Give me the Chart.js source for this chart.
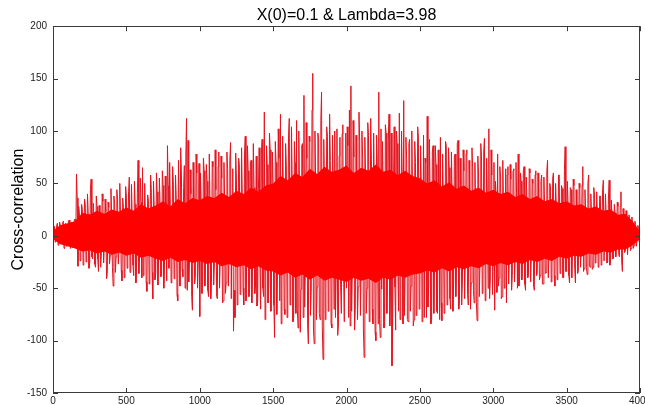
<!DOCTYPE html>
<html>
<head>
<meta charset="utf-8">
<script src="https://cdn.jsdelivr.net/npm/chart.js@4.4.1/dist/chart.umd.min.js"></script>
<style>
  html, body { margin: 0; padding: 0; background: #fff; }
  canvas { display: block; }
</style>
</head>
<body>
<canvas id="xcorr" width="645" height="405"></canvas>
<script>
// lag axis: 0..4000, samples every 10 lags plus the in-between samples (lag + 5)
const LAG_STEP = 10;

// cross-correlation at lags 0, 10, 20 ... 4000 (20 per row = 200 lags)
const xcorrValues = [
    0, 9, -5, 12, -8, 10, -3, 14, -10, 8, -6, 15, -12, 11, -7, 16, 59, -29, 22, -15,
    25, -18, 30, -12, 21, -26, 54, -22, 14, -30, 28, -34, 16, -17, 33, -9, 23, -36, 27, -19,
    18, -48, 32, -20, 35, -14, 19, -43, 27, -30, 38, -12, 56, -21, 15, -38, 30, -23, 72, -18,
    32, 65, -27, 20, -53, 34, -23, 45, -60, 24, -36, 42, -18, 28, -38, 48, -28, 13, 86, -31,
    26, -40, 52, -18, 35, -62, 22, 84, -32, 46, -50, 112, 91, -23, 40, -71, 27, -40, 60, -25,
    -77, 30, -44, 62, -20, 52, -58, 29, -42, 66, -26, 44, -60, 80, -21, 55, -62, 31, -45, 64,
    -23, 89, 36, -91, -78, 54, -26, 68, -44, 38, -66, 95, -27, 62, -50, 72, -25, 46, -48, -67,
    45, -26, 78, -50, 118, -28, 68, -47, 82, -22, 46, -97, 70, -29, 74, 116, -50, 42, -75, 67,
    -32, 112, -48, 53, -78, 70, 110, -88, 42, -51, 88, 134, -30, 74, -103, 90, -53, 155, -103, 51,
    -49, 92, -80, 137, -118, 44, -52, 95, -30, 72, -88, 50, 100, -31, -95, 76, -49, 97, -34, 53,
    -50, 86, 120, 143, -32, 75, -70, 42, -49, 90, -33, 74, -116, 58, -50, 96, -32, 73, -84, 46,
    -100, 71, 137, -97, -51, 45, -86, 98, -30, 116, -52, -124, 44, -49, 100, -33, 117, -50, 56, 129,
    -31, 73, -82, 92, -48, 42, -80, 70, -27, 94, -50, 48, -26, -78, 70, 114, -48, 39, -80, 86,
    -27, 68, -74, 46, 94, -81, 37, -46, 86, -29, 65, -70, 36, -45, 78, -27, 91, -62, 44, -44,
    62, -23, 82, -66, 40, -45, 63, -64, 31, -81, 59, -24, 76, -42, 93, -26, 40, 102, -43, 58,
    -21, -71, 37, 78, -40, 56, -58, 25, -39, -64, 66, -20, 54, -38, 64, -21, 33, 78, -39, 52,
    -18, 66, -52, 31, -37, 60, -19, 50, -52, 62, -36, 29, -38, 58, -46, 28, -35, 72, -17, 47,
    -36, 60, -48, 26, -34, 58, -15, 45, -40, 85, -34, 30, -45, 44, -13, 48, -45, 23, -34, 46,
    -12, 66, -31, 20, -37, 58, -30, 18, -30, 40, -24, 17, -28, 38, -10, 53, -24, 16, -25, 53,
    -22, 14, -21, 22, -9, 28, -20, 42, -34, 12, -15, 17, -6, 15, -12, 8, -9, 11, -4, 7,
    3
];

// cross-correlation at lags 5, 15, 25 ... 3995
const xcorrMid = [
    4, -6, 10, -9, 13, -7, 11, -12, 12, -10, 14, -8, 13, -11, 15, -9, 36, 28, -24, 30,
    -28, 35, -25, 40, -31, 44, -20, 31, -27, 38, -22, 29, -30, 40, -26, 35, -41, 32, -27, 45,
    -30, 38, -35, 44, -27, 50, -33, 36, -40, 47, -31, 42, -35, 49, -28, 52, -45, 41, -36, 55,
    -40, -38, 50, -44, 39, -46, 58, -35, 52, -42, 60, -47, 55, -39, 62, -50, 57, -43, 48, 70,
    -45, 66, -41, 58, -56, 72, -48, 61, -39, 67, 75, -52, -44, 63, -58, 70, -46, 78, -50, 69,
    60, -55, 74, -48, 68, -52, 78, -60, 71, -47, 82, -58, 66, -50, 76, -64, 70, -55, 80, -48,
    72, -60, 64, -52, 79, -66, 74, -56, 84, -50, 77, -62, 86, -58, 70, -64, 88, -55, 76, -62,
    84, -70, 92, -58, -80, 86, -64, 98, -72, 80, -66, 90, -75, 102, -62, -84, 95, -70, 88, -78,
    96, -66, 104, -82, 90, -74, -70, 100, -92, 86, -78, -68, 108, -85, 95, -76, 120, -90, 100, -80,
    98, -74, 110, -86, 92, -80, 104, -72, 116, -84, 96, -70, -78, 102, -86, 94, -74, 106, -82, 98,
    104, -78, -86, -72, 110, -90, 96, -80, 118, -76, 100, -88, 94, -74, 108, -82, 112, -70, 98, -92,
    96, -84, -80, 102, 90, -88, 106, -74, 92, -86, 98, -78, 104, -90, 88, -72, -80, 100, -84, -76,
    94, -80, 88, -72, 100, -86, 90, -76, 104, -70, 86, -82, 96, 74, -78, -68, 92, -84, 80, -74,
    86, -72, 82, -80, -64, 78, -74, 90, -66, 84, -60, 80, -72, 76, -58, 88, -70, 74, -66, 82,
    -60, 78, -56, 72, -70, 84, -52, 70, -64, 76, -58, 88, -55, 80, -62, 74, -50, -60, 82, -56,
    70, 52, -54, -48, 66, -60, 72, -50, 64, 58, -46, 68, -52, 62, -44, 70, -50, -48, 60, -42,
    62, -46, 56, -40, 64, -44, 54, -48, 58, -38, 60, -42, 52, -46, 56, -36, 62, -40, 50, -44,
    55, -38, 50, -42, 58, -36, 48, -40, 62, -34, 52, -38, 46, -40, 54, -32, 44, -36, 50, -30,
    48, -34, 44, -30, 50, -28, 40, -32, 46, -26, 42, -30, 38, -28, 44, -24, 40, -26, 36, -28,
    34, -22, 30, -20, 32, -18, 28, -24, 26, -16, 24, -18, 20, -14, 18, -12, 14, -10, 10, -6
];

// solid core of the trace, upper and lower edge read every 50 lags
const CORE_STEP = 50;
const coreUpper = [
    5, 10, 12, 14, 22, 20, 24, 21, 25, 23,
    27, 24, 30, 26, 29, 33, 28, 35, 31, 36,
    34, 38, 36, 41, 37, 43, 40, 46, 42, 48,
    50, 57, 53, 60, 56, 64, 59, 66, 61, 63,
    67, 60, 65, 62, 68, 61, 63, 58, 62, 57,
    55, 50, 53, 47, 51, 45, 48, 43, 46, 41,
    44, 40, 42, 37, 40, 35, 38, 33, 35, 31,
    33, 29, 30, 26, 28, 24, 25, 20, 21, 14,
    4
];
const coreLower = [
    -3, -8, -10, -12, -15, -14, -17, -15, -18, -16,
    -19, -17, -21, -19, -22, -24, -21, -25, -23, -26,
    -24, -27, -25, -29, -27, -30, -28, -32, -29, -33,
    -34, -38, -35, -40, -37, -42, -38, -43, -40, -42,
    -44, -40, -43, -41, -45, -40, -42, -38, -40, -37,
    -36, -33, -35, -31, -34, -30, -32, -29, -31, -27,
    -29, -26, -28, -25, -27, -23, -25, -22, -24, -20,
    -22, -19, -20, -17, -18, -15, -16, -13, -13, -9,
    -3
];

const xTicks = [0, 500, 1000, 1500, 2000, 2500, 3000, 3500, 4000];
const yTicks = [-150, -100, -50, 0, 50, 100, 150, 200];

const CORE_RED = "#ff0000";
const TRACE_RED = "#e4141f";

// interleave the two sample sets into one trace ordered by lag
const tracePoints = [];
xcorrValues.forEach((v, i) => {
    tracePoints.push({ x: i * LAG_STEP, y: v });
    if (i < xcorrMid.length) {
        tracePoints.push({ x: i * LAG_STEP + LAG_STEP / 2, y: xcorrMid[i] });
    }
});
const upperPoints = coreUpper.map((v, i) => ({ x: i * CORE_STEP, y: v }));
const lowerPoints = coreLower.map((v, i) => ({ x: i * CORE_STEP, y: v }));

// frame around the axes with inward tick marks on all four sides
const boxFrame = {
    id: "boxFrame",
    afterDatasetsDraw(chart) {
        const { ctx, chartArea: a, scales } = chart;
        const x = scales.x, y = scales.y;
        ctx.save();
        ctx.strokeStyle = "#3a3a3a";
        ctx.lineWidth = 1;
        ctx.beginPath();
        xTicks.forEach((t) => {
            const px = Math.round(x.getPixelForValue(t)) + 0.5;
            ctx.moveTo(px, a.bottom);
            ctx.lineTo(px, a.bottom - 5);
            ctx.moveTo(px, a.top);
            ctx.lineTo(px, a.top + 5);
        });
        yTicks.forEach((t) => {
            const py = Math.round(y.getPixelForValue(t)) + 0.5;
            ctx.moveTo(a.left, py);
            ctx.lineTo(a.left + 5, py);
            ctx.moveTo(a.right, py);
            ctx.lineTo(a.right - 5, py);
        });
        ctx.stroke();
        ctx.strokeRect(Math.round(a.left) + 0.5, Math.round(a.top) + 0.5,
            Math.round(a.width) - 1, Math.round(a.height) - 1);
        ctx.restore();
    },
};

const ctx = document.getElementById("xcorr").getContext("2d");
new Chart(ctx, {
    type: "line",
    data: {
        datasets: [
            {
                label: "trace",
                data: tracePoints,
                borderColor: TRACE_RED,
                borderWidth: 1,
                pointRadius: 0,
                tension: 0,
                fill: false,
                order: 2,
            },
            {
                label: "core upper",
                data: upperPoints,
                borderWidth: 0,
                borderColor: "rgba(0,0,0,0)",
                backgroundColor: CORE_RED,
                pointRadius: 0,
                tension: 0,
                fill: "+1",
                order: 0,
            },
            {
                label: "core lower",
                data: lowerPoints,
                borderWidth: 0,
                borderColor: "rgba(0,0,0,0)",
                pointRadius: 0,
                tension: 0,
                fill: false,
                order: 1,
            },
        ],
    },
    options: {
        responsive: false,
        animation: false,
        events: [],
        layout: {
            padding: { left: 0, right: 5, top: 0, bottom: 0 },
        },
        plugins: {
            legend: { display: false },
            tooltip: { enabled: false },
            title: {
                display: true,
                text: "X(0)=0.1 & Lambda=3.98",
                fullSize: false,
                color: "#000",
                font: { family: "Liberation Sans", size: 16, weight: "normal", lineHeight: 1.2 },
                padding: { top: 6, bottom: 1 },
            },
        },
        scales: {
            x: {
                type: "linear",
                min: 0,
                max: 4000,
                grid: { display: false, drawTicks: false },
                border: { display: false },
                ticks: {
                    stepSize: 500,
                    padding: 2,
                    color: "#222",
                    maxRotation: 0,
                    font: { family: "Liberation Sans", size: 10 },
                    callback: (v) => String(v),
                },
                afterFit(scale) {
                    scale.height = 12;
                    scale.paddingLeft = 0;
                    scale.paddingRight = 0;
                },
            },
            y: {
                min: -150,
                max: 200,
                grid: { display: false, drawTicks: false },
                border: { display: false },
                ticks: {
                    stepSize: 50,
                    padding: 6,
                    color: "#222",
                    font: { family: "Liberation Sans", size: 10 },
                    callback: (v) => String(v),
                },
                title: {
                    display: true,
                    text: "Cross-correlation",
                    color: "#000",
                    font: { family: "Liberation Sans", size: 16, lineHeight: 1.2 },
                    padding: { top: 9, bottom: 0 },
                },
                afterFit(scale) {
                    scale.width = 53;
                    scale.paddingTop = 0;
                    scale.paddingBottom = 0;
                },
            },
        },
    },
    plugins: [boxFrame],
});
</script>
</body>
</html>
